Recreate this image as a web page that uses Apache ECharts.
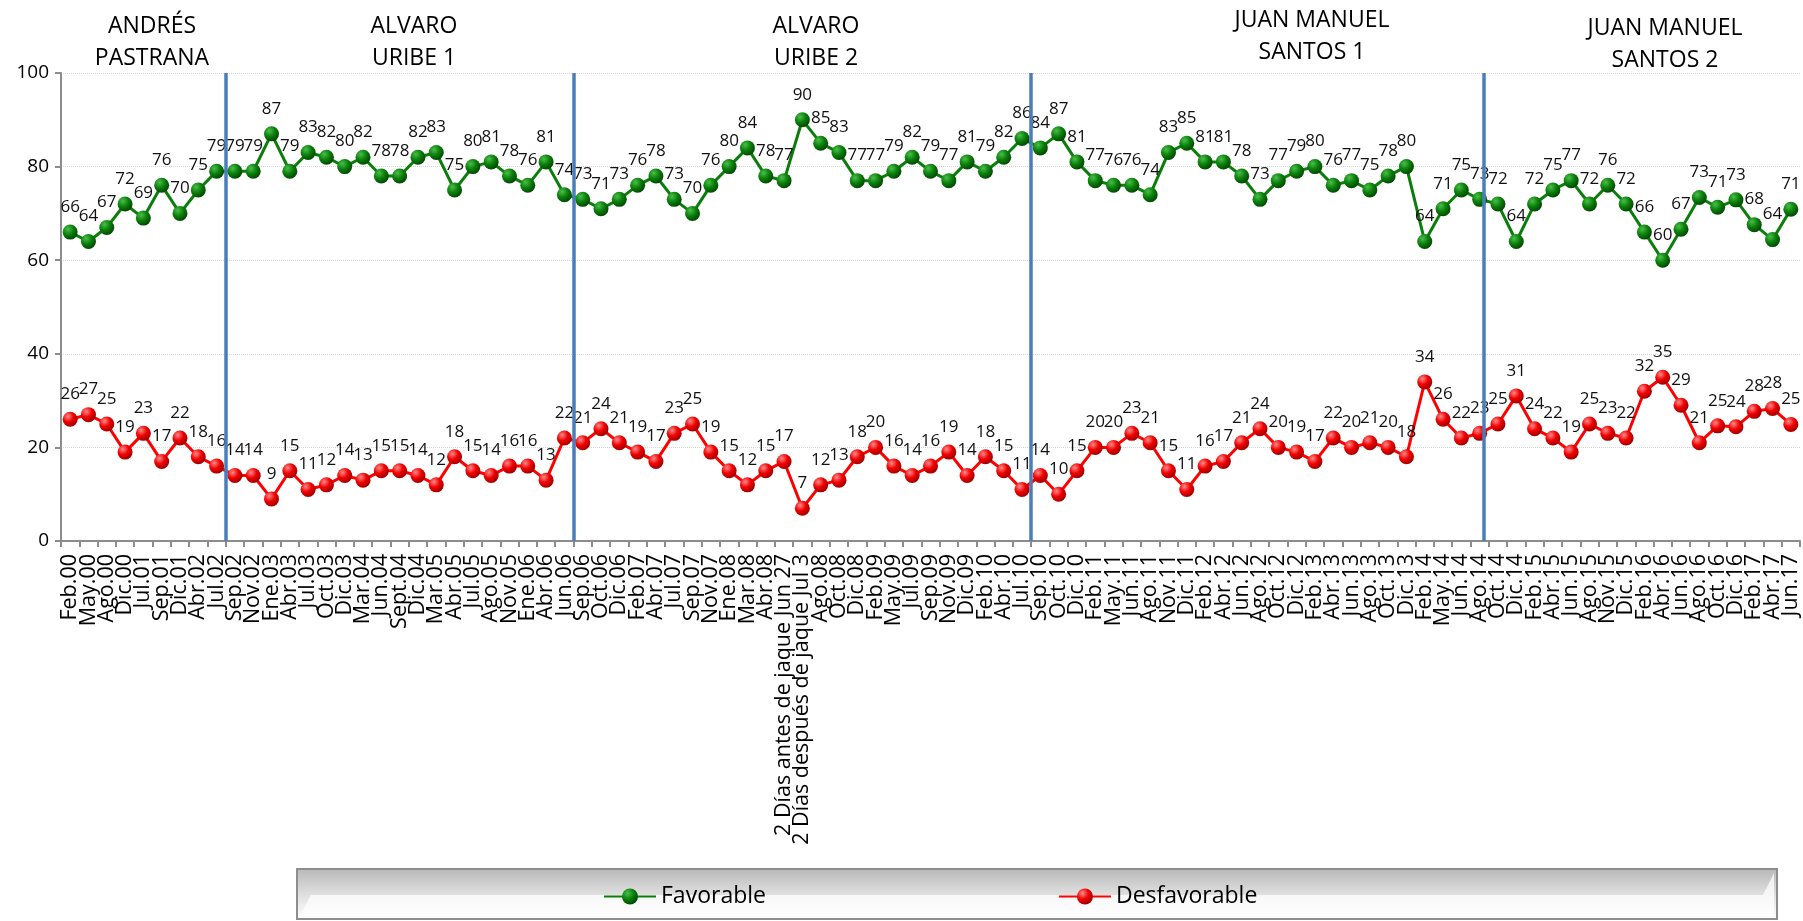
<!DOCTYPE html>
<html>
<head>
<meta charset="utf-8">
<script src="https://cdn.jsdelivr.net/npm/echarts@6/dist/echarts.min.js"></script>
<style>
  html, body { margin: 0; padding: 0; background: #fff; }
  #chart { width: 1803px; height: 921px; }
</style>
</head>
<body>
<div id="chart"></div>
<script>
const categories = [
  "Feb.00", "May.00", "Ago.00", "Dic.00", "Jul.01", "Sep.01", "Dic.01", "Abr.02", "Jul.02",
  "Sep.02", "Nov.02", "Ene.03", "Abr.03", "Jul.03", "Oct.03", "Dic.03", "Mar.04", "Jun.04",
  "Sept.04", "Dic.04", "Mar.05", "Abr.05", "Jul.05", "Ago.05", "Nov.05", "Ene.06", "Abr.06", "Jun.06",
  "Sep.06", "Oct.06", "Dic.06", "Feb.07", "Abr.07", "Jul.07", "Sep.07", "Nov.07", "Ene.08", "Mar.08",
  "Abr.08", "2 Días antes de jaque Jun 27", "2 Días después de jaque Jul 3", "Ago.08", "Oct.08",
  "Dic.08", "Feb.09", "May.09", "Jul.09", "Sep.09", "Nov.09", "Dic.09", "Feb.10", "Abr.10", "Jul.10",
  "Sep.10", "Oct.10", "Dic.10", "Feb.11", "May.11", "Jun.11", "Ago.11", "Nov.11", "Dic.11", "Feb.12",
  "Abr.12", "Jun.12", "Ago.12", "Oct.12", "Dic.12", "Feb.13", "Abr.13", "Jun.13", "Ago.13", "Oct.13",
  "Dic.13", "Feb.14", "May.14", "Jun.14", "Ago.14",
  "Oct.14", "Dic.14", "Feb.15", "Abr.15", "Jun.15", "Ago.15", "Nov.15", "Dic.15", "Feb.16", "Abr.16",
  "Jun.16", "Ago.16", "Oct.16", "Dic.16", "Feb.17", "Abr.17", "Jun.17"
];

const favorable = [
  66, 64, 67, 72, 69, 76, 70, 75, 79,
  79, 79, 87, 79, 83, 82, 80, 82, 78, 78, 82, 83, 75, 80, 81, 78, 76, 81, 74,
  73, 71, 73, 76, 78, 73, 70, 76, 80, 84, 78, 77, 90, 85, 83, 77, 77, 79, 82, 79, 77, 81, 79, 82, 86,
  84, 87, 81, 77, 76, 76, 74, 83, 85, 81, 81, 78, 73, 77, 79, 80, 76, 77, 75, 78, 80, 64, 71, 75, 73,
  72, 64, 72, 75, 77, 72, 76, 72, 66, 60, 66.6, 73.4, 71.3, 72.9, 67.6, 64.4, 70.9
];

const desfavorable = [
  26, 27, 25, 19, 23, 17, 22, 18, 16,
  14, 14, 9, 15, 11, 12, 14, 13, 15, 15, 14, 12, 18, 15, 14, 16, 16, 13, 22,
  21, 24, 21, 19, 17, 23, 25, 19, 15, 12, 15, 17, 7, 12, 13, 18, 20, 16, 14, 16, 19, 14, 18, 15, 11,
  14, 10, 15, 20, 20, 23, 21, 15, 11, 16, 17, 21, 24, 20, 19, 17, 22, 20, 21, 20, 18, 34, 26, 22, 23,
  25, 31, 24, 22, 19, 25, 23, 22, 32, 35, 29, 21, 24.6, 24.4, 27.7, 28.3, 24.9
];

// end of each presidential period, counted in categories
const periodBreaks = [9, 28, 53, 77.7];
const periodNames = [
  "ANDRÉS\nPASTRANA", "ALVARO\nURIBE 1", "ALVARO\nURIBE 2",
  "JUAN MANUEL\nSANTOS 1", "JUAN MANUEL\nSANTOS 2"
];

const chart = echarts.init(document.getElementById("chart"));

function sphere(light, mid, dark) {
  return new echarts.graphic.RadialGradient(0.35, 0.3, 0.75, [
    { offset: 0, color: light },
    { offset: 0.5, color: mid },
    { offset: 1, color: dark },
  ]);
}

const labelStyle = {
  show: true,
  position: "top",
  distance: 9,
  fontFamily: "Open Sans",
  fontSize: 17,
  color: "#111",
  formatter: (p) => Math.round(p.value),
};

const titlePos = [[152, 10], [414, 10], [816, 10], [1312, 4], [1665, 12]];

// legend frame (Excel style bevelled box)
const box = { x: 297, y: 869, w: 1480, h: 50 };

const option = {
  animation: false,
  backgroundColor: "#fff",
  grid: { left: 61, right: 3, top: 73, bottom: 380 },
  xAxis: [
    {
      type: "category",
      data: categories,
      axisLine: { lineStyle: { color: "#8c8c8c", width: 2 } },
      axisTick: { show: true, length: 6, lineStyle: { color: "#8c8c8c", width: 2 } },
      axisLabel: {
        interval: 0,
        rotate: 90,
        margin: 13,
        fontFamily: "Open Sans",
        fontSize: 21.5,
        color: "#000",
      },
      splitLine: { show: false },
    },
    {
      // helper axis so the period separators sit between categories
      type: "value",
      min: 0,
      max: categories.length,
      show: false,
    },
  ],
  yAxis: {
    type: "value",
    min: 0,
    max: 100,
    interval: 20,
    axisLine: { show: true, lineStyle: { color: "#8c8c8c", width: 2 } },
    axisTick: { show: true, length: 6, lineStyle: { color: "#8c8c8c", width: 2 } },
    axisLabel: { fontFamily: "Open Sans", fontSize: 19, color: "#000", margin: 12 },
    splitLine: { lineStyle: { color: "#d6d6d6", type: "dotted", width: 1 } },
  },
  legend: {
    data: ["Favorable", "Desfavorable"],
    left: 598,
    top: 880,
    itemWidth: 52,
    itemHeight: 20,
    itemGap: 292,
    textStyle: { fontFamily: "Open Sans", fontSize: 23, color: "#000" },
  },
  graphic: [
    {
      type: "rect",
      z: -2,
      shape: { x: box.x, y: box.y, width: box.w, height: box.h },
      style: {
        fill: new echarts.graphic.LinearGradient(0, 0, 0, 1, [
          { offset: 0, color: "#b8b8b8" },
          { offset: 0.55, color: "#e2e2e2" },
          { offset: 1, color: "#ffffff" },
        ]),
        stroke: "#8e8e8e",
        lineWidth: 2,
      },
    },
    {
      // inner bevel face
      type: "polygon",
      z: -1,
      shape: {
        points: [
          [box.x + 3, box.y + box.h - 3],
          [box.x + 14, box.y + 26],
          [box.x + box.w - 14, box.y + 26],
          [box.x + box.w - 3, box.y + 4],
          [box.x + box.w - 3, box.y + box.h - 3],
        ],
      },
      style: { fill: "rgba(255,255,255,0.75)" },
    },
  ].concat(
    periodNames.map((name, i) => ({
      type: "text",
      x: titlePos[i][0],
      y: titlePos[i][1],
      style: {
        text: name,
        fontFamily: "Open Sans",
        fontSize: 23,
        lineHeight: 32,
        fill: "#000",
        align: "center",
      },
    }))
  ),
  series: [
    {
      name: "Favorable",
      type: "line",
      data: favorable,
      symbol: "circle",
      symbolSize: 15,
      z: 3,
      lineStyle: { color: "#0b7d0b", width: 3 },
      itemStyle: { color: sphere("#49c049", "#0c7f0c", "#004400") },
      label: labelStyle,
    },
    {
      name: "Desfavorable",
      type: "line",
      data: desfavorable,
      symbol: "circle",
      symbolSize: 15,
      z: 3,
      lineStyle: { color: "#ff0000", width: 3 },
      itemStyle: { color: sphere("#ff8a8a", "#f00000", "#990000") },
      label: labelStyle,
    },
    {
      name: "periodos",
      type: "line",
      xAxisIndex: 1,
      data: [],
      silent: true,
      z: 2,
      markLine: {
        silent: true,
        symbol: ["none", "none"],
        label: { show: false },
        lineStyle: { color: "#4a7ebb", width: 3.5, type: "solid" },
        data: periodBreaks.map((v) => ({ xAxis: v })),
      },
    },
  ],
};

chart.setOption(option);
</script>
</body>
</html>
